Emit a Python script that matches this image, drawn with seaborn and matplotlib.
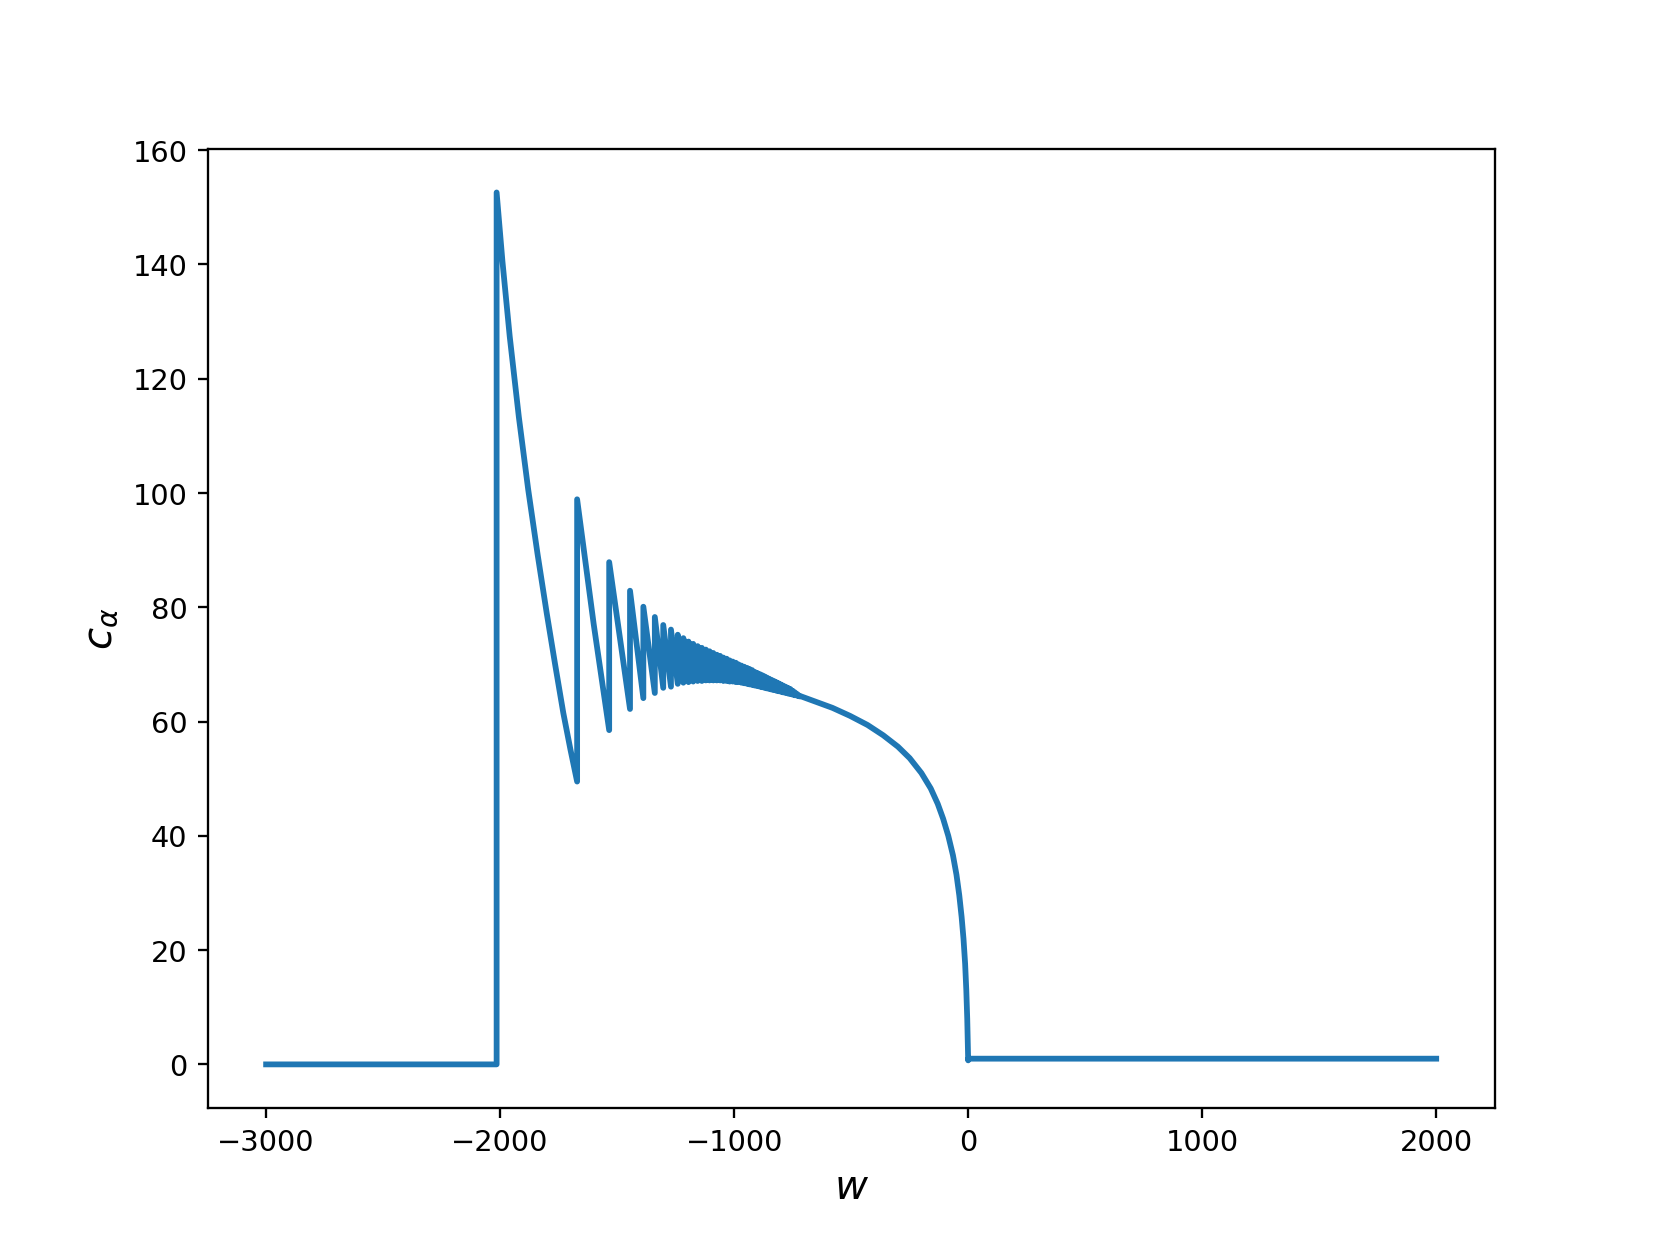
import numpy as np
import pandas as pd
import matplotlib
matplotlib.use("Agg")
import matplotlib.pyplot as plt
import seaborn as sns

# flat part on the left, before the first jump
left_w = [-3000, -2015]
left_c = [0.0, 0.0]

# first long decay after the jump at w = -2015
decay_w = [-2015, -1990, -1959, -1920, -1880, -1840, -1801, -1765, -1730, -1700, -1671]
decay_c = [152.6, 140.5, 127.4, 113.3, 100.6, 89.3, 79.0, 70.0, 61.5, 55.2, 49.5]

# sawtooth: jump position, value just before the jump (trough), value after (peak)
jump_w = [-1671, -1534, -1445, -1388, -1339, -1303, -1270, -1241, -1217,
          -1195, -1175, -1156, -1138, -1121, -1105, -1089, -1074, -1060,
          -1046, -1032, -1019, -1006, -993, -981, -969, -957, -945, -934,
          -923, -912, -901, -890, -880, -870, -860, -850, -840, -830, -820,
          -810, -800, -790, -780, -770, -760, -750, -740, -730, -720]
trough_c = [49.5, 58.5, 62.2, 64.1, 65.0, 65.9, 66.1, 66.6, 66.8,
            66.9, 67.0, 67.1, 67.1, 67.2, 67.2, 67.2, 67.2, 67.2,
            67.1, 67.1, 67.0, 67.0, 66.9, 66.9, 66.8, 66.7, 66.6, 66.5,
            66.4, 66.3, 66.2, 66.1, 66.0, 65.9, 65.8, 65.7, 65.6, 65.5, 65.4,
            65.3, 65.2, 65.1, 65.0, 64.9, 64.8, 64.7, 64.6, 64.5, 64.4]
peak_c = [98.9, 87.9, 82.9, 80.1, 78.3, 76.9, 76.1, 75.2, 74.6,
          74.0, 73.6, 73.2, 72.9, 72.6, 72.3, 72.0, 71.7, 71.5,
          71.2, 71.0, 70.7, 70.5, 70.3, 70.0, 69.8, 69.6, 69.4, 69.2,
          69.0, 68.7, 68.5, 68.3, 68.1, 67.9, 67.7, 67.5, 67.3, 67.1, 66.9,
          66.7, 66.5, 66.3, 66.1, 65.9, 65.7, 65.4, 65.1, 64.8, 64.5]
# one extra point on the second (slightly bent) tooth
bend_w = -1600
bend_c = 77.0

# smooth tail down to w = 0
tail_w = [-680, -640, -580, -505, -430, -363, -300, -250, -200, -160, -130,
          -107, -85, -65, -50, -38, -28, -20, -13, -8, -4, -1, 0]
tail_c = [63.9, 63.3, 62.4, 61.0, 59.4, 57.6, 55.6, 53.6, 51.0, 48.3, 45.6,
          43.0, 40.0, 36.6, 33.2, 29.6, 25.8, 22.0, 17.6, 13.0, 8.0, 3.0, 0.7]

# flat part on the right
right_w = [0, 2000]
right_c = [1.0, 1.0]


def build_path():
    w = list(left_w) + list(decay_w)
    c = list(left_c) + list(decay_c)
    # after the decay we are at the first trough; go up, then down to the next trough
    for i in range(len(jump_w)):
        if i > 0:
            w.append(jump_w[i])
            c.append(trough_c[i])
        w.append(jump_w[i])
        c.append(peak_c[i])
        if i == 0:
            w.append(bend_w)
            c.append(bend_c)
    w += tail_w + right_w
    c += tail_c + right_c
    return pd.DataFrame({"w": w, "c": c})


data = build_path()

fig, ax = plt.subplots(figsize=(8, 6), dpi=207.6)
sns.lineplot(data=data, x="w", y="c", sort=False, estimator=None,
             color="#1f77b4", linewidth=2, ax=ax)
ax.set_xlabel("$w$", fontsize=14)
ax.set_ylabel(r"$c_\alpha$", fontsize=14)
ax.set_xticks([-3000, -2000, -1000, 0, 1000, 2000])
ax.set_yticks([0, 20, 40, 60, 80, 100, 120, 140, 160])

fig.savefig("out.png", dpi=207.6)
